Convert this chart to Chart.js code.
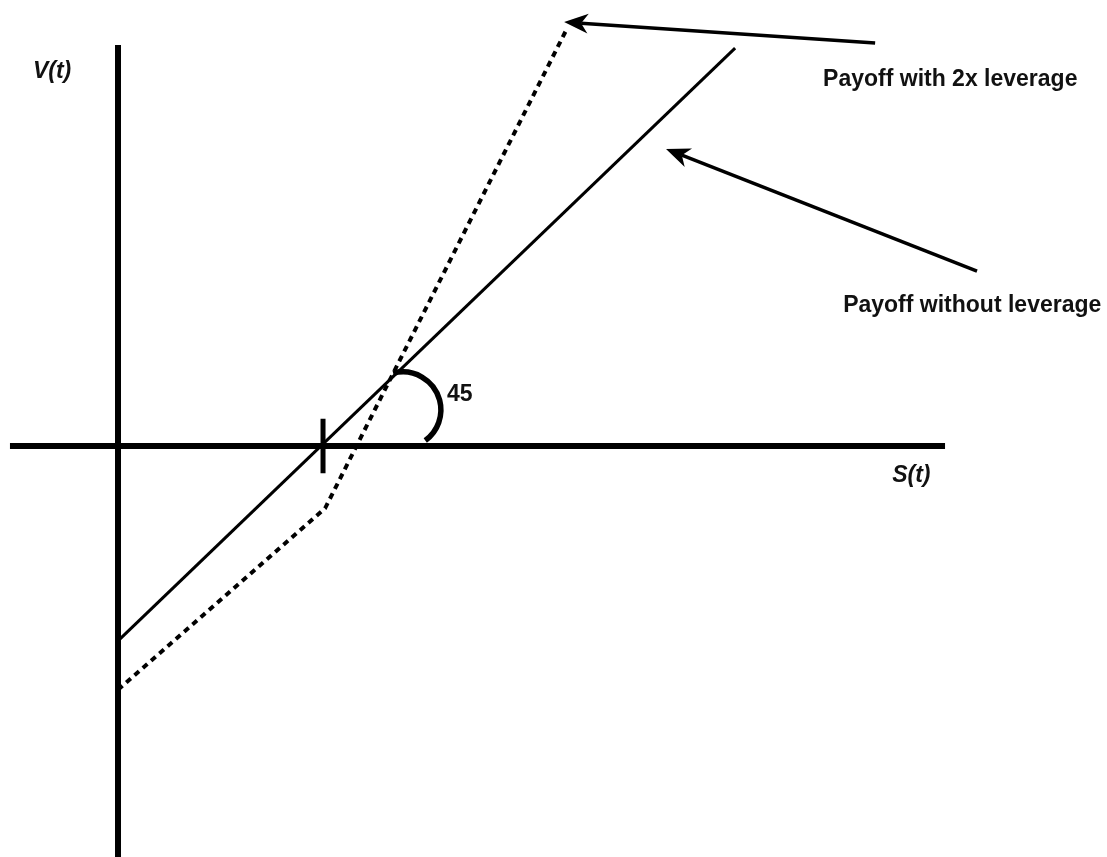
<!DOCTYPE html>
<html>
<head>
<meta charset="utf-8">
<script src="https://cdn.jsdelivr.net/npm/chart.js@4.4.1/dist/chart.umd.min.js"></script>
<style>
html, body { margin: 0; padding: 0; background: #fff; }
#wrap { width: 1107px; height: 857px; position: relative; }
</style>
</head>
<body>
<div id="wrap"><canvas id="payoffChart"></canvas></div>
<script>
// payoff lines, as (S, V) points, strike at S = 10
const strike = 10;
const payoffNoLeverage = [[0, -10], [30.1, 20.4]];
const payoff2xLeverage = [[0, -12.5], [10.1, -3.2], [21.85, 21.3]];

// axis extents (the diagram axes, not chart scales)
const sAxisRange = [-5.27, 40.34];
const vAxisRange = [-21.1, 20.56];

// labels and arrows
const axisLabels = [
    { text: 'V(t)', x: -4.15, y: 18.87, italic: true },
    { text: 'S(t)', x: 37.76, y: -1.85, italic: true },
    { text: '45', x: 16.05, y: 2.31 },
    { text: 'Payoff with 2x leverage', x: 34.39, y: 18.46 },
    { text: 'Payoff without leverage', x: 35.37, y: 6.87 }
];
const arrows = [
    { from: [36.93, 20.67], to: [21.76, 21.74] },
    { from: [41.9, 8.97], to: [26.73, 15.23] }
];
const angleArc = { x: 13.9, y: 1.85, r: 1.85, start: -105, end: 54 };

const toXY = pts => pts.map(p => ({ x: p[0], y: p[1] }));

function drawArrow(ctx, x1, y1, x2, y2) {
    const ang = Math.atan2(y2 - y1, x2 - x1);
    const len = 24, half = 10, notch = 17;
    const bx = x2 - Math.cos(ang) * notch, by = y2 - Math.sin(ang) * notch;
    ctx.beginPath();
    ctx.lineWidth = 3.5;
    ctx.moveTo(x1, y1);
    ctx.lineTo(bx, by);
    ctx.stroke();
    const cx = x2 - Math.cos(ang) * len, cy = y2 - Math.sin(ang) * len;
    ctx.beginPath();
    ctx.moveTo(x2, y2);
    ctx.lineTo(cx - Math.sin(ang) * half, cy + Math.cos(ang) * half);
    ctx.lineTo(bx, by);
    ctx.lineTo(cx + Math.sin(ang) * half, cy - Math.cos(ang) * half);
    ctx.closePath();
    ctx.fill();
}

const annotationPlugin = {
    id: 'annotations',
    afterDatasetsDraw(chart) {
        const { ctx, scales: { x, y } } = chart;
        const px = v => x.getPixelForValue(v);
        const py = v => y.getPixelForValue(v);
        ctx.save();
        ctx.strokeStyle = '#000';
        ctx.fillStyle = '#000';

        // the 45 degree arc
        ctx.beginPath();
        ctx.lineWidth = 5.5;
        const r = px(angleArc.r) - px(0);
        ctx.arc(px(angleArc.x), py(angleArc.y), r,
            angleArc.start * Math.PI / 180, angleArc.end * Math.PI / 180);
        ctx.stroke();

        arrows.forEach(a => drawArrow(ctx, px(a.from[0]), py(a.from[1]), px(a.to[0]), py(a.to[1])));

        ctx.fillStyle = '#111';
        ctx.textBaseline = 'alphabetic';
        axisLabels.forEach(l => {
            ctx.font = (l.italic ? 'italic ' : '') + 'bold 23px "Liberation Sans", Arial, sans-serif';
            ctx.fillText(l.text, px(l.x), py(l.y));
        });
        ctx.restore();
    }
};

const lineBase = { showLine: true, pointRadius: 0, borderColor: '#000', borderCapStyle: 'butt', fill: false, tension: 0 };

new Chart(document.getElementById('payoffChart'), {
    type: 'scatter',
    data: {
        datasets: [
            { ...lineBase, label: 'S axis', data: toXY([[sAxisRange[0], 0], [sAxisRange[1], 0]]), borderWidth: 6 },
            { ...lineBase, label: 'V axis', data: toXY([[0, vAxisRange[0]], [0, vAxisRange[1]]]), borderWidth: 6 },
            { ...lineBase, label: 'Strike', data: toXY([[strike, 1.4], [strike, -1.4]]), borderWidth: 5 },
            { ...lineBase, label: 'Payoff without leverage', data: toXY(payoffNoLeverage), borderWidth: 3 },
            { ...lineBase, label: 'Payoff with 2x leverage', data: toXY(payoff2xLeverage), borderWidth: 4,
              borderDash: [6, 5], borderJoinStyle: 'miter' }
        ]
    },
    options: {
        responsive: true,
        maintainAspectRatio: false,
        animation: false,
        layout: { padding: 0 },
        scales: {
            x: { type: 'linear', min: -5.756, max: 48.24, display: false },
            y: { type: 'linear', min: -21.08, max: 22.87, display: false }
        },
        plugins: {
            legend: { display: false },
            tooltip: { enabled: false }
        }
    },
    plugins: [annotationPlugin]
});
</script>
</body>
</html>
